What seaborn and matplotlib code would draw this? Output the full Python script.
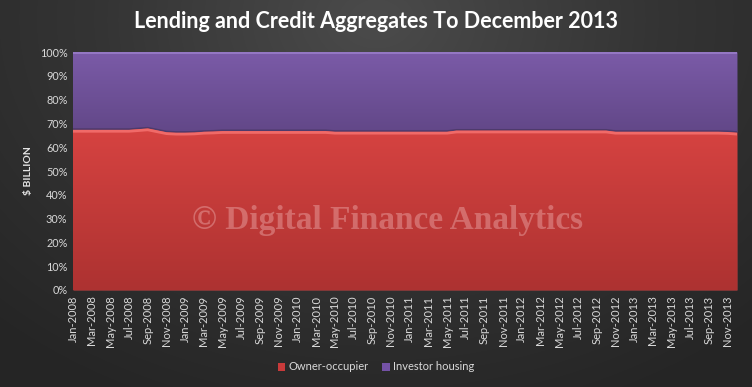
import numpy as np
import pandas as pd
import matplotlib
matplotlib.use("Agg")
import matplotlib.pyplot as plt
import seaborn as sns
from matplotlib.patches import Patch
from matplotlib.colors import LinearSegmentedColormap

# ---------------- data ----------------
months = pd.date_range("2008-01-01", "2013-12-01", freq="MS").strftime("%b-%Y").tolist()

owner_occupier = [67.6, 67.6, 67.6, 67.6, 67.6, 67.6, 67.6, 67.9, 68.2, 67.4,
                  66.6, 66.4, 66.4, 66.5, 66.8, 66.9, 67.1, 67.1, 67.1, 67.1,
                  67.1, 67.1, 67.1, 67.1, 67.1, 67.1, 67.1, 67.1, 66.8, 66.8,
                  66.8, 66.8, 66.8, 66.8, 66.8, 66.8, 66.8, 66.8, 66.8, 66.8,
                  66.8, 67.3, 67.3, 67.3, 67.3, 67.3, 67.3, 67.3, 67.3, 67.3,
                  67.3, 67.3, 67.3, 67.3, 67.3, 67.3, 67.3, 67.3, 66.8, 66.8,
                  66.8, 66.8, 66.8, 66.8, 66.8, 66.8, 66.8, 66.8, 66.8, 66.8,
                  66.7, 66.4]
investor_housing = [32.4, 32.4, 32.4, 32.4, 32.4, 32.4, 32.4, 32.1, 31.8, 32.6,
                    33.4, 33.6, 33.6, 33.5, 33.2, 33.1, 32.9, 32.9, 32.9, 32.9,
                    32.9, 32.9, 32.9, 32.9, 32.9, 32.9, 32.9, 32.9, 33.2, 33.2,
                    33.2, 33.2, 33.2, 33.2, 33.2, 33.2, 33.2, 33.2, 33.2, 33.2,
                    33.2, 32.7, 32.7, 32.7, 32.7, 32.7, 32.7, 32.7, 32.7, 32.7,
                    32.7, 32.7, 32.7, 32.7, 32.7, 32.7, 32.7, 32.7, 33.2, 33.2,
                    33.2, 33.2, 33.2, 33.2, 33.2, 33.2, 33.2, 33.2, 33.2, 33.2,
                    33.3, 33.6]
series_names = ["Owner-occupier", "Investor housing"]
y_ticks = [0, 10, 20, 30, 40, 50, 60, 70, 80, 90, 100]

df = pd.DataFrame({"month": months,
                   "idx": np.arange(len(months)),
                   "owner": owner_occupier,
                   "investor": investor_housing})
df["total"] = df["owner"] + df["investor"]
df["owner_top"] = df["owner"] / df["total"] * 100

# ---------------- style ----------------
sns.set_theme(style="dark")
plt.rcParams["font.family"] = ["Lato", "DejaVu Sans"]

W, H = 752, 387
fig = plt.figure(figsize=(W / 100, H / 100), dpi=100)

# background radial gradient
bg = fig.add_axes([0, 0, 1, 1], zorder=-10)
yy, xx = np.mgrid[0:H, 0:W]
r = np.sqrt(((xx - W * 0.5) / (W * 0.75)) ** 2 + ((yy - H * 0.05) / (H * 1.1)) ** 2)
r = np.clip(r, 0, 1)
bg_cmap = LinearSegmentedColormap.from_list("bg", ["#4b4b4b", "#343434", "#252525"])
bg.imshow(r, cmap=bg_cmap, aspect="auto", extent=[0, 1, 0, 1], origin="upper")
bg.set_axis_off()

L, R, T, B = 73, 737, 52, 290
ax = fig.add_axes([L / W, 1 - B / H, (R - L) / W, (B - T) / H])
ax.set_facecolor("none")

x = df["idx"].to_numpy()
top = df["owner_top"].to_numpy()

red_poly = ax.fill_between(x, 0, top, color="#d24141", lw=0, zorder=2)
pur_poly = ax.fill_between(x, top, 100, color="#6f529b", lw=0, zorder=2)

# gradients clipped to areas
red_cmap = LinearSegmentedColormap.from_list("red", ["#ad3231", "#d94442"])
pur_cmap = LinearSegmentedColormap.from_list("pur", ["#5f4584", "#7b5ba8"])
grad = np.linspace(0, 1, 256).reshape(-1, 1)
im1 = ax.imshow(grad, cmap=red_cmap, aspect="auto", extent=[0, 71, 0, 72],
                origin="lower", zorder=3)
im1.set_clip_path(red_poly.get_paths()[0], transform=ax.transData)
im2 = ax.imshow(grad, cmap=pur_cmap, aspect="auto", extent=[0, 71, 62, 100],
                origin="lower", zorder=3)
im2.set_clip_path(pur_poly.get_paths()[0], transform=ax.transData)

# boundary highlights
sns.lineplot(data=df, x="idx", y="owner_top", ax=ax, color="#4e3a6c", lw=1.2,
             zorder=4, legend=False)
sns.lineplot(x=x, y=top - 0.9, ax=ax, color="#f06a68", lw=2.0, zorder=4, legend=False)
ax.axhline(99.6, color="#9a7dc9", lw=1.2, zorder=4)

ax.set_xlim(0, 71)
ax.set_ylim(0, 100)
ax.set_xticks(x[::2])
ax.set_xticklabels(months[::2], rotation=90, fontsize=8, color="#d9d9d9")
ax.set_yticks(y_ticks)
ax.set_yticklabels([f"{v}%" for v in y_ticks], fontsize=7.8, color="#d9d9d9")
ax.tick_params(axis="both", length=0, pad=4)
ax.set_xlabel("")
ax.set_ylabel("$ BILLION", fontsize=7.5, fontweight="bold", color="#e6e6e6", labelpad=5)
ax.grid(False)
for s in ax.spines.values():
    s.set_visible(False)

# watermark
ax.text(33.6, 29, "\u00a9 Digital Finance Analytics", ha="center", va="center",
        fontsize=24, fontweight="bold", family=["Liberation Serif", "DejaVu Serif"],
        color="#f0b4b4", alpha=0.42, zorder=6)

# title
fig.text(0.5, 1 - 21 / H, "Lending and Credit Aggregates To December 2013",
         ha="center", va="center", fontsize=15.5, fontweight="bold", color="white")

# legend
handles = [Patch(facecolor="#c83a3a", edgecolor="none"),
           Patch(facecolor="#7452a6", edgecolor="none")]
leg = fig.legend(handles, series_names, loc="center", bbox_to_anchor=(0.5, 1 - 367 / H),
                 ncol=2, frameon=False, fontsize=8, handlelength=0.7, handleheight=0.7,
                 handletextpad=0.3, columnspacing=1.2)
for t in leg.get_texts():
    t.set_color("#d9d9d9")

fig.savefig("out.png", dpi=100)
